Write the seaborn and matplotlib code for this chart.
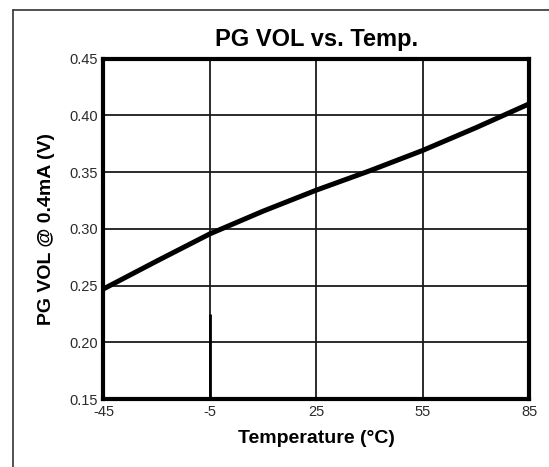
import numpy as np
import pandas as pd
import seaborn as sns
import matplotlib.pyplot as plt
from matplotlib.lines import Line2D

# curve; x is the grid column (ticks are equally spaced)
grid_pos = [0, 0.5, 1, 1.5, 2, 2.5, 3, 3.5, 4]
pg_vol = [0.247, 0.2715, 0.2955, 0.3155, 0.334, 0.351, 0.369, 0.389, 0.410]

tick_pos = [0, 1, 2, 3, 4]
tick_labels = ["-45", "-5", "25", "55", "85"]
y_ticks = [0.15, 0.20, 0.25, 0.30, 0.35, 0.40, 0.45]


def main():
    sns.set_style("white")
    plt.rcParams["font.family"] = ["Liberation Sans", "DejaVu Sans"]

    df = pd.DataFrame({"pos": grid_pos, "vol": pg_vol})

    fig = plt.figure(figsize=(5.49, 4.67), dpi=100)
    ax = fig.add_axes([0.1885, 0.1456, 0.7751, 0.7291])

    sns.lineplot(data=df, x="pos", y="vol", color="black", lw=3.6, ax=ax)

    # short heavier stub on the second grid line
    ax.vlines(1, 0.15, 0.225, color="black", lw=2.0, zorder=3)

    ax.set_xlim(0, 4)
    ax.set_ylim(0.15, 0.45)
    ax.set_xticks(tick_pos)
    ax.set_xticklabels(tick_labels)
    ax.set_yticks(y_ticks)
    ax.set_yticklabels([f"{v:.2f}" for v in y_ticks])

    ax.grid(True, color="#1a1a1a", lw=1.3)
    ax.set_axisbelow(True)
    for s in ax.spines.values():
        s.set_visible(True)
        s.set_color("black")
        s.set_linewidth(3.0)

    ax.tick_params(axis="both", length=0, pad=4, labelsize=10.5, labelcolor="#2b2b2b")

    ax.set_title("PG VOL vs. Temp.", fontsize=17, fontweight="bold", pad=9, color="black")
    ax.set_xlabel("Temperature (°C)", fontsize=14, fontweight="bold", labelpad=8, color="black")
    ax.set_ylabel("PG VOL @ 0.4mA (V)", fontsize=14, fontweight="bold", labelpad=10, color="black")

    # thin frame along top and left of the image
    fig.add_artist(Line2D([13 / 549, 1.0], [1 - 10 / 467, 1 - 10 / 467],
                          transform=fig.transFigure, color="#333333", lw=1.2))
    fig.add_artist(Line2D([13 / 549, 13 / 549], [0.0, 1 - 10 / 467],
                          transform=fig.transFigure, color="#333333", lw=1.2))

    fig.savefig("out.png", dpi=100)


if __name__ == "__main__":
    main()
